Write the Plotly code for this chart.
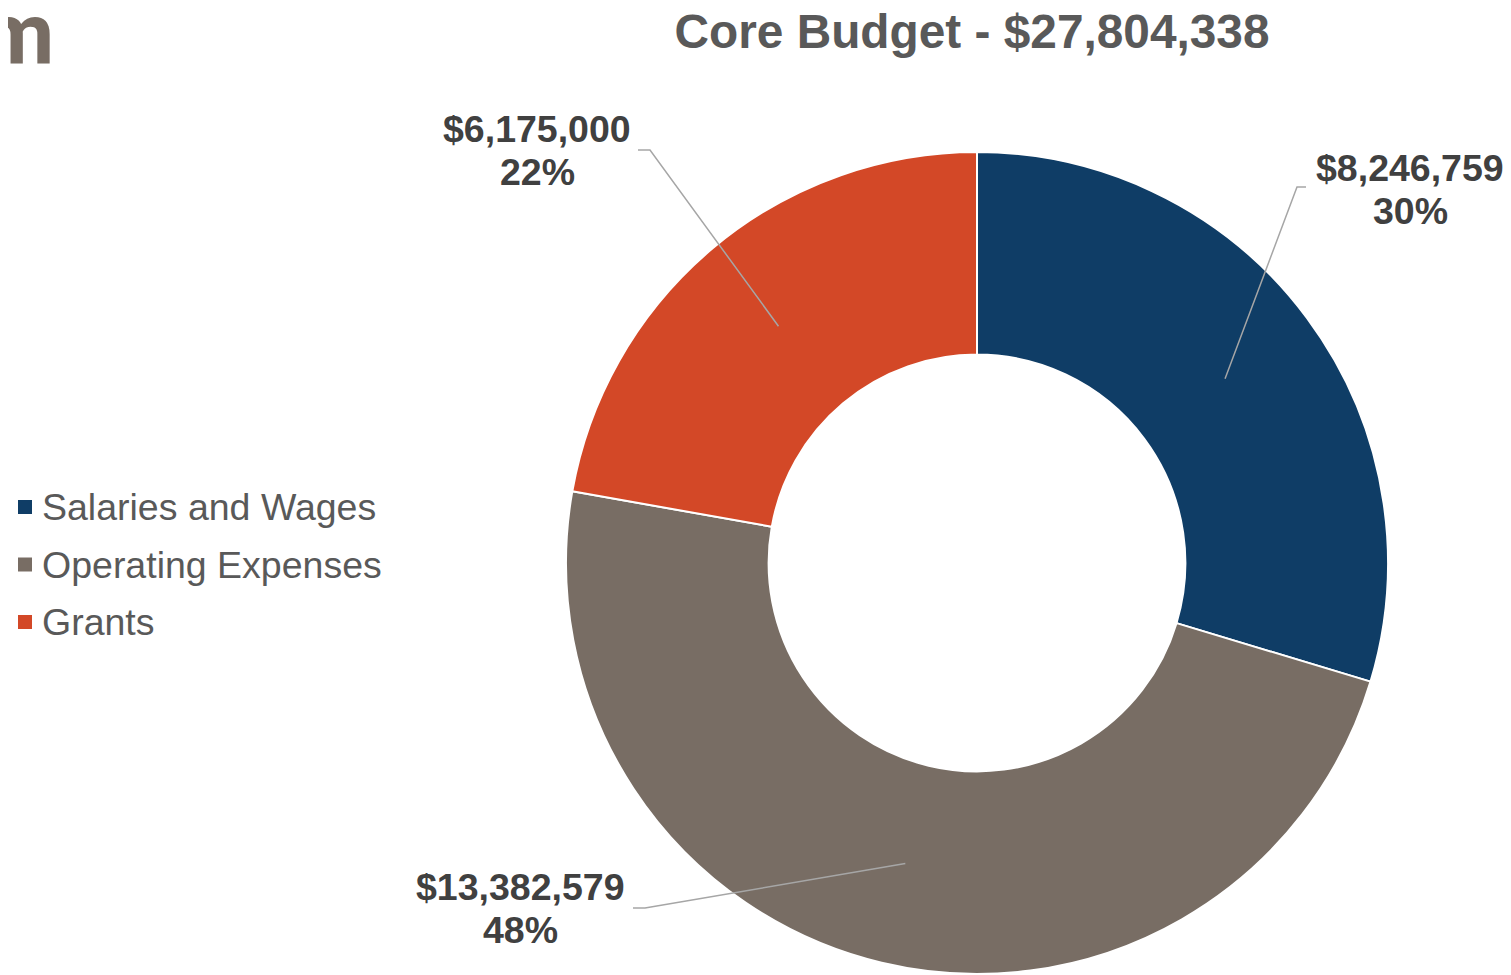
import math
import plotly.graph_objects as go

# ---- data ----
categories = ["Salaries and Wages", "Operating Expenses", "Grants"]
amounts = [8246759, 13382579, 6175000]
colors = ["#0F3D66", "#786D64", "#D34827"]
title_text = "Core Budget - $27,804,338"

# ---- layout constants (page pixels; the page body adds an 8px margin) ----
OFF = 8
W, H = 1511 - OFF, 975 - OFF
CX, CY, R_OUT = 977, 563, 411
HOLE = 0.507
R_MID = 309
FONT = "Liberation Sans, Arial, sans-serif"
LABEL_COLOR = "#404040"
TEXT_GRAY = "#595959"

# label placement per slice: (text center x, value line y, percent line y, elbow x, elbow y, end x)
label_layout = [
    (1410, 168, 211, 1297, 187, 1306),
    (520, 887, 930, 645, 908, 633),
    (537, 129, 172, 650, 150, 638),
]

# legend placement: square left x, first row center y, row step
LEG_X, LEG_Y0, LEG_STEP, LEG_SQ = 18, 507, 57.5, 14


def px(x):
    return (x - OFF) / W


def py(y):
    return 1 - (y - OFF) / H


total = sum(amounts)

fig = go.Figure(go.Pie(
    labels=categories,
    values=amounts,
    marker=dict(colors=colors, line=dict(color="white", width=2)),
    hole=HOLE,
    sort=False,
    direction="clockwise",
    rotation=0,
    textinfo="none",
    hoverinfo="label+value+percent",
    showlegend=False,
    domain=dict(x=[px(CX - R_OUT), px(CX + R_OUT)], y=[py(CY + R_OUT), py(CY - R_OUT)]),
))

annotations = []
shapes = []
cum = 0
for amt, (tx, vy, py_, ex, ey, endx) in zip(amounts, label_layout):
    frac_mid = (cum + amt / 2) / total
    cum += amt
    ang = 2 * math.pi * frac_mid
    sx = CX + R_MID * math.sin(ang)
    sy = CY - R_MID * math.cos(ang)
    shapes.append(dict(
        type="path", xref="paper", yref="paper",
        path=f"M {px(sx)} {py(sy)} L {px(ex)} {py(ey)} L {px(endx)} {py(ey)}",
        line=dict(color="#A6A6A6", width=1.5),
    ))
    pct = round(100 * amt / total)
    for txt, yy in ((f"${amt:,}", vy), (f"{pct}%", py_)):
        annotations.append(dict(
            x=px(tx), y=py(yy), xref="paper", yref="paper",
            text=txt, showarrow=False,
            xanchor="center", yanchor="middle", align="center",
            font=dict(family=FONT, size=37.5, color=LABEL_COLOR, weight="bold"),
        ))

# legend (keys and names taken from the data arrays)
for i, (name, col) in enumerate(zip(categories, colors)):
    cy = LEG_Y0 + i * LEG_STEP
    shapes.append(dict(
        type="rect", xref="paper", yref="paper",
        x0=px(LEG_X), x1=px(LEG_X + LEG_SQ),
        y0=py(cy + LEG_SQ / 2), y1=py(cy - LEG_SQ / 2),
        fillcolor=col, line=dict(width=0),
    ))
    annotations.append(dict(
        x=px(LEG_X + LEG_SQ + 9), y=py(cy), xref="paper", yref="paper",
        text=name, showarrow=False, xanchor="left", yanchor="middle",
        borderpad=0,
        font=dict(family=FONT, size=37.5, color=TEXT_GRAY),
    ))

# cropped slide-title fragment at top left (cut by the left edge, as in the source)
annotations.append(dict(
    x=px(55), y=py(34), xref="paper", yref="paper",
    text="m", showarrow=False, xanchor="right", yanchor="middle",
    borderpad=0,
    font=dict(family="Roboto, sans-serif", size=87, color="#786D64", weight="bold"),
))

fig.update_layout(
    width=W, height=H,
    margin=dict(l=0, r=0, t=0, b=0),
    paper_bgcolor="white", plot_bgcolor="white",
    title=dict(text=title_text, x=px(972), y=py(31), xanchor="center", yanchor="middle",
               font=dict(family=FONT, size=47.8, color=TEXT_GRAY, weight="bold")),
    showlegend=False,
    annotations=annotations,
    shapes=shapes,
)

fig.write_html("out.html")
